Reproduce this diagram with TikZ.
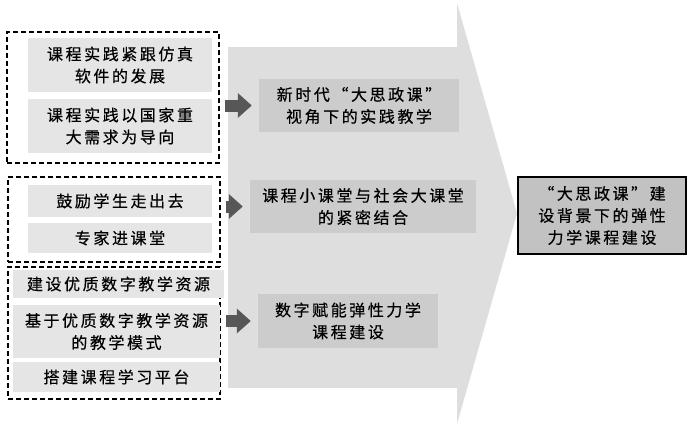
\documentclass[tikz,border=0pt]{standalone}
\usepackage{fontspec}
\usepackage{xcolor}
\usepackage{tikz}
\usetikzlibrary{arrows.meta}
\newfontfamily\cjk[LetterSpace=16,FakeBold=0.4]{Noto Sans CJK SC}
\definecolor{fondfleche}{gray}{0.87}
\definecolor{fondgauche}{gray}{0.90}
\definecolor{fondmilieu}{gray}{0.80}
\definecolor{fonddroite}{gray}{0.76}
\definecolor{petitefleche}{gray}{0.34}

\begin{document}
\begin{tikzpicture}[x=1pt,y=-1pt,
    boite/.style={inner sep=0pt, align=center, font=\cjk\fontsize{16}{22}\selectfont},
    gauche/.style={boite, fill=fondgauche},
    milieu/.style={boite, fill=fondmilieu},
    groupe/.style={draw=black, line width=1.1pt, dash pattern=on 5pt off 3pt, inner sep=0pt},
    fleche/.style={draw=petitefleche, line width=12pt, -{Triangle[length=14pt,width=24pt]},
                   shorten <=5pt, shorten >=7pt}]
    \useasboundingbox (0,0) rectangle (687,426);

    % Grande flèche de fond
    \coordinate (P1) at (228,47);
    \coordinate (P2) at (457,47);
    \coordinate (P3) at (457,3);
    \coordinate (P4) at (517,213.5);
    \coordinate (P5) at (457,424);
    \coordinate (P6) at (457,388);
    \coordinate (P7) at (228,388);
    \fill[fondfleche] (P1) -- (P2) -- (P3) -- (P4) -- (P5) -- (P6) -- (P7) -- cycle;

    % Groupes en pointillés
    \node[groupe, minimum width=212pt, minimum height=131pt] (g1) at (113,97.5) {};
    \node[groupe, minimum width=212pt, minimum height=85pt] (g2) at (114,219.5) {};
    \node[groupe, minimum width=212pt, minimum height=132pt] (g3) at (114,333) {};

    % Cases de gauche
    \node[gauche, minimum width=184pt, minimum height=54pt] (l1a) at (120,65) {课程实践紧跟仿真\\软件的发展};
    \node[gauche, minimum width=184pt, minimum height=54pt] (l1b) at (120,126) {课程实践以国家重\\大需求为导向};
    \node[gauche, minimum width=184pt, minimum height=32pt] (l2a) at (120,201) {鼓励学生走出去};
    \node[gauche, minimum width=184pt, minimum height=30pt] (l2b) at (120,238) {专家进课堂};
    \node[gauche, minimum width=211pt, minimum height=28pt] (l3a) at (118.5,284) {建设优质数字教学资源};
    \node[gauche, minimum width=207pt, minimum height=53pt] (l3b) at (116.5,331.5) {基于优质数字教学资源\\的教学模式};
    \node[gauche, minimum width=207pt, minimum height=30pt] (l3c) at (116.5,377) {搭建课程学习平台};

    % Cases du milieu
    \node[milieu, minimum width=200pt, minimum height=53pt] (m1) at (359,105.5) {新时代“大思政课”\\视角下的实践教学};
    \node[milieu, minimum width=226pt, minimum height=53pt] (m2) at (363,206.5) {课程小课堂与社会大课堂\\的紧密结合};
    \node[milieu, minimum width=180pt, minimum height=54pt] (m3) at (348,321) {数字赋能弹性力学\\课程建设};

    % Case de droite
    \node[boite, fill=fonddroite, draw=black, line width=1.4pt, minimum width=168pt, minimum height=77pt]
        (r) at (602,215.5) {“大思政课”建\\设背景下的弹性\\力学课程建设};

    % Petites flèches
    \draw[fleche] (g1.east |- m1.west) -- (m1.west);
    \draw[fleche] (g2.east |- m2.west) -- (m2.west);
    \draw[fleche] (g3.east |- m3.west) -- (m3.west);

\end{tikzpicture}
\end{document}
